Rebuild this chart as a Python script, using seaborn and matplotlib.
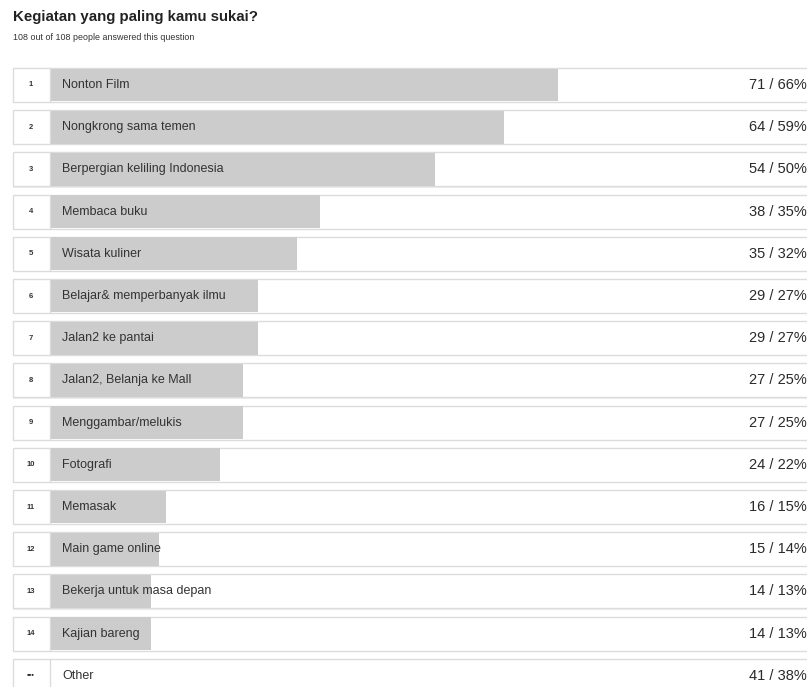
import matplotlib
matplotlib.use("Agg")
import matplotlib.pyplot as plt
import seaborn as sns
import pandas as pd
from matplotlib.patches import Rectangle

# ---- data ----
ranks = ["1", "2", "3", "4", "5", "6", "7", "8", "9", "10", "11", "12", "13", "14", "•••"]
labels = ["Nonton Film", "Nongkrong sama temen", "Berpergian keliling Indonesia",
          "Membaca buku", "Wisata kuliner", "Belajar& memperbanyak ilmu",
          "Jalan2 ke pantai", "Jalan2, Belanja ke Mall", "Menggambar/melukis",
          "Fotografi", "Memasak", "Main game online", "Bekerja untuk masa depan",
          "Kajian bareng", "Other"]
counts = [71, 64, 54, 38, 35, 29, 29, 27, 27, 24, 16, 15, 14, 14, 41]
percents = [66, 59, 50, 35, 32, 27, 27, 25, 25, 22, 15, 14, 13, 13, 38]
show_bar = [True] * 14 + [False]

title = "Kegiatan yang paling kamu sukai?"
subtitle = "108 out of 108 people answered this question"

df = pd.DataFrame({"label": labels, "count": counts, "pct": percents,
                   "rank": ranks, "bar": show_bar})
bars_df = df[df["bar"]]

sns.set_theme(style="white")
plt.rcParams["font.family"] = ["Liberation Sans", "DejaVu Sans"]

W, H = 807, 687
fig = plt.figure(figsize=(W / 100, H / 100), dpi=100)
fig.patch.set_facecolor("white")
ax = fig.add_axes([0, 0, 1, 1])

# pixel mapping helpers (layout only)
x0_px, px_per_pct = 51, 7.68
y0_px, px_per_row = 85, 42.2
def px2x(px):
    return (px - x0_px) / px_per_pct

row_h = 34 / px_per_row

# row boxes
for i in range(len(labels)):
    ax.add_patch(Rectangle((px2x(13), i - row_h / 2 + 0.03), px2x(840) - px2x(13), row_h,
                           facecolor="#eeeeee", edgecolor="none", zorder=0))
    ax.add_patch(Rectangle((px2x(13), i - row_h / 2), px2x(840) - px2x(13), row_h,
                           facecolor="white", edgecolor="#dcdcdc", linewidth=1.0, zorder=0.5))
    ax.plot([px2x(50), px2x(50)], [i - row_h / 2, i + row_h / 2], color="#dcdcdc",
            lw=1.0, zorder=0.6)

sns.barplot(data=bars_df, x="pct", y="label", order=labels, orient="h",
            color="#cccccc", saturation=1, width=row_h - 0.03, ax=ax, zorder=1,
            edgecolor="none", linewidth=0)

for i, (r, lab, c, p) in enumerate(zip(ranks, labels, counts, percents)):
    ax.text(px2x(31), i, r, ha="center", va="center", fontsize=5.5,
            fontweight="bold", color="#333333", zorder=3)
    ax.text(px2x(62), i, lab, ha="left", va="center", fontsize=9,
            color="#333333", zorder=3)
    ax.text(px2x(807), i, f"{c} / {p}%", ha="right", va="center", fontsize=10.5,
            color="#2a2a2a", zorder=3)

ax.set_xlim(px2x(0), px2x(W))
ax.set_ylim((H - y0_px) / px_per_row, -y0_px / px_per_row)
ax.axis("off")

fig.text(13 / W, 1 - 17 / H, title, ha="left", va="center", fontsize=10.8,
         fontweight="bold", color="#222222")
fig.text(13 / W, 1 - 37 / H, subtitle, ha="left", va="center", fontsize=6.4,
         color="#333333")

fig.savefig("out.png", dpi=100, facecolor="white")
